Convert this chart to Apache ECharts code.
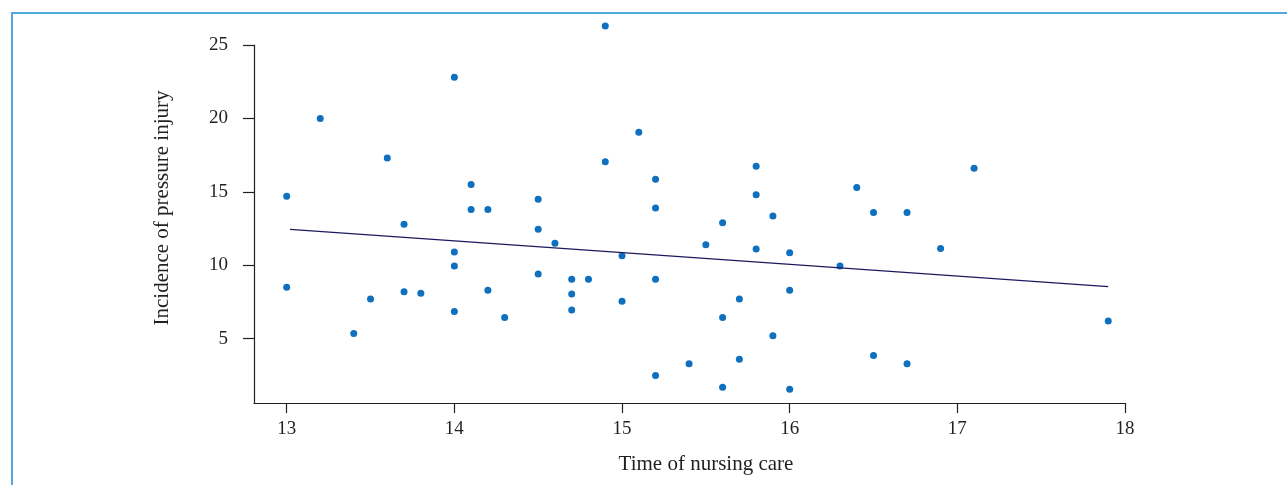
<!DOCTYPE html>
<html>
<head>
<meta charset="utf-8">
<script src="https://cdn.jsdelivr.net/npm/echarts@6/dist/echarts.min.js"></script>
<style>
html,body{margin:0;padding:0;background:#fff;}
#c{width:1287px;height:485px;}
</style>
</head>
<body>
<div id="c"></div>
<script>
var xTicks = [13, 14, 15, 16, 17, 18];
var yTicks = [5, 10, 15, 20, 25];
var timeCare = [13.0,13.0,13.2,13.4,13.5,13.6,13.7,13.7,13.8,14.0,14.0,14.0,14.0,14.1,14.1,14.2,14.2,14.3,14.5,14.5,14.5,14.6,14.7,14.7,14.7,14.8,14.9,14.9,15.0,15.0,15.1,15.2,15.2,15.2,15.2,15.4,15.5,15.6,15.6,15.6,15.7,15.7,15.8,15.8,15.8,15.9,15.9,16.0,16.0,16.0,16.3,16.4,16.5,16.5,16.7,16.7,16.9,17.1,17.9];
var incidence = [14.7,8.5,20.0,5.35,7.7,17.3,12.8,8.2,8.1,22.8,10.9,9.95,6.85,15.5,13.8,13.8,8.3,6.45,14.5,12.45,9.4,11.5,9.05,8.05,6.95,9.05,26.3,17.05,10.65,7.55,19.05,15.85,13.9,9.05,2.5,3.3,11.4,12.9,6.45,1.7,7.7,3.6,16.75,14.8,11.1,13.35,5.2,10.85,8.3,1.55,9.95,15.3,13.6,3.85,13.6,3.3,11.15,16.6,6.2];
var fitX = [13.02, 17.9];
var fitY = [12.45, 8.55];

var pts = timeCare.map(function(x, i){ return [x, incidence[i]]; });
var fit = fitX.map(function(x, i){ return [x, fitY[i]]; });

var txt = '#231f20';
var font = 'Liberation Serif';
var chart = echarts.init(document.getElementById('c'));
chart.setOption({
  animation: false,
  backgroundColor: '#fff',
  graphic: [
    {type:'line', shape:{x1:12, y1:13, x2:1287, y2:13}, style:{stroke:'#4fa9d9', lineWidth:2}},
    {type:'line', shape:{x1:12, y1:12, x2:12, y2:485}, style:{stroke:'#4fa9d9', lineWidth:2}}
  ],
  grid: {left: 254, right: 162, top: 45, bottom: 82},
  xAxis: {
    type: 'value', min: 12.805, max: 18,
    name: 'Time of nursing care', nameLocation: 'middle', nameGap: 51,
    nameTextStyle: {fontFamily: font, fontSize: 21, color: txt, padding: [0,0,0,33]},
    axisLine: {show: true, lineStyle: {color: txt, width: 1.2}},
    axisTick: {show: true, length: 10, customValues: xTicks, lineStyle: {color: txt, width: 1.2}},
    axisLabel: {customValues: xTicks, fontFamily: font, fontSize: 19, color: txt, margin: 17},
    splitLine: {show: false}
  },
  yAxis: {
    type: 'value', min: 0.62, max: 25,
    name: 'Incidence of pressure injury', nameLocation: 'middle', nameGap: 81,
    nameTextStyle: {fontFamily: font, fontSize: 21, color: txt, padding: [0,0,0,32]},
    axisLine: {show: true, lineStyle: {color: txt, width: 1.2}},
    axisTick: {show: true, length: 11, customValues: yTicks, lineStyle: {color: txt, width: 1.2}},
    axisLabel: {customValues: yTicks, fontFamily: font, fontSize: 19, color: txt, margin: 26},
    splitLine: {show: false}
  },
  series: [
    {type: 'scatter', data: pts, symbolSize: 7, clip: false,
     itemStyle: {color: '#0e70be', opacity: 1}},
    {type: 'line', data: fit, symbol: 'none', clip: false,
     lineStyle: {color: '#1c1a5e', width: 1.3}}
  ]
});
</script>
</body>
</html>
